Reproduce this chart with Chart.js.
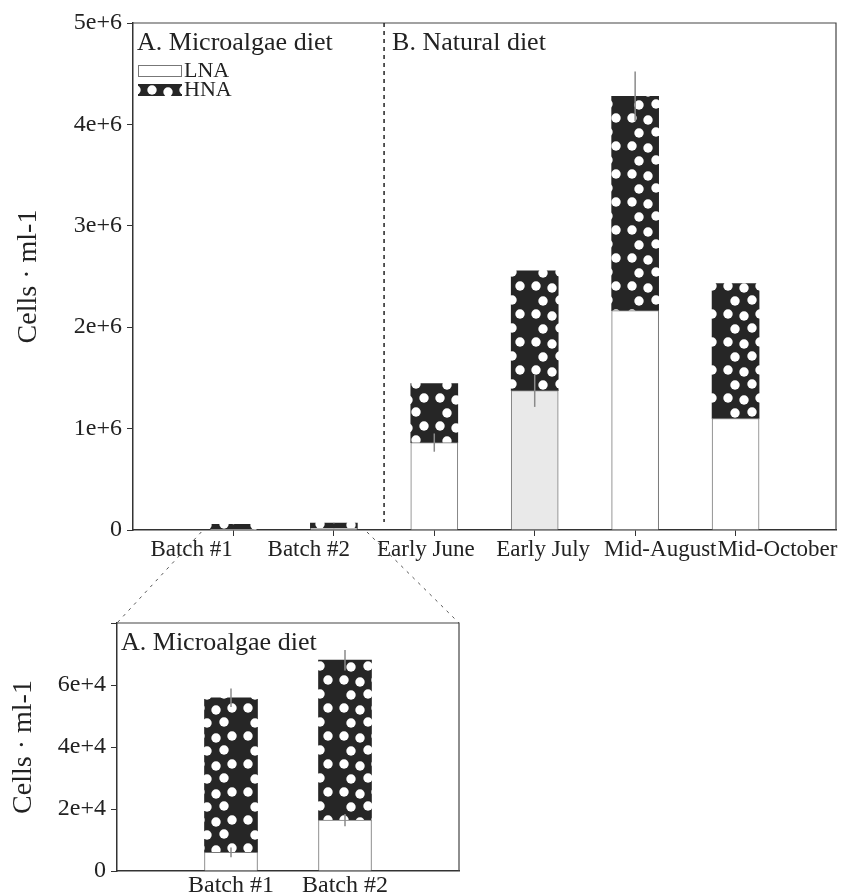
<!DOCTYPE html>
<html>
<head>
<meta charset="utf-8">
<script src="https://cdn.jsdelivr.net/npm/chart.js@4.4.0/dist/chart.umd.min.js"></script>
<style>
  html, body { margin: 0; padding: 0; background: #fff; }
  #wrap { position: relative; width: 857px; height: 896px; }
  #main-chart { position: absolute; left: 0; top: 0; }
  #inset-chart { position: absolute; left: 0; top: 590px; }
  #links { position: absolute; left: 0; top: 0; pointer-events: none; }
</style>
</head>
<body>
<div id="wrap">
  <canvas id="main-chart" width="857" height="590"></canvas>
  <canvas id="inset-chart" width="857" height="306"></canvas>
  <canvas id="links" width="857" height="896"></canvas>
</div>
<script>
// data
var categories = ['Batch #1', 'Batch #2', 'Early June', 'Early July', 'Mid-August', 'Mid-October'];
var lnaCells = [6000, 16400, 862000, 1374000, 2163000, 1100000];
var hnaCells = [49900, 51600, 581000, 1183000, 2113000, 1330000];
var lnaErr = [1600, 2000, 90000, 160000, 0, 0];
var hnaErr = [3000, 3300, 0, 0, 245000, 0];
var mainYTicks = ['0', '1e+6', '2e+6', '3e+6', '4e+6', '5e+6'];
var insetYTicks = ['0', '2e+4', '4e+4', '6e+4', ''];
var seriesNames = ['LNA', 'HNA'];
var panelTitles = ['A. Microalgae diet', 'B. Natural diet'];
var yTitle = 'Cells \u00b7 ml-1';

var SERIF = "'Liberation Serif', 'Times New Roman', serif";
var INK = '#222';
var lnaFill = ['#ffffff', '#ffffff', '#ffffff', '#e9e9e9', '#ffffff', '#ffffff'];

// black with white dots, like the printed HNA fill
function dotPattern(ctx) {
  var c = document.createElement('canvas');
  c.width = 48; c.height = 28;
  var g = c.getContext('2d');
  g.fillStyle = '#262626';
  g.fillRect(0, 0, 48, 28);
  g.fillStyle = '#fff';
  [[8, 6], [24, 8], [40, 6], [15, 21], [32, 20]].forEach(function (p) {
    g.beginPath();
    g.arc(p[0], p[1], 4.7, 0, Math.PI * 2);
    g.fill();
  });
  return ctx.createPattern(c, 'repeat');
}

var hnaPattern = dotPattern(document.getElementById('main-chart').getContext('2d'));

// frame, error bars, panel titles, legend
var extras = {
  id: 'extras',
  afterDatasetsDraw: function (chart) {
    var ctx = chart.ctx;
    var yS = chart.scales.y;
    ctx.save();
    ctx.strokeStyle = '#8a8a8a';
    ctx.lineWidth = 1.5;
    chart.data.datasets.forEach(function (ds, di) {
      var meta = chart.getDatasetMeta(di);
      meta.data.forEach(function (el, i) {
        var e = ds.errors[i];
        if (!e) return;
        var h = yS.getPixelForValue(0) - yS.getPixelForValue(e);
        ctx.beginPath();
        ctx.moveTo(el.x, el.y - h);
        ctx.lineTo(el.x, el.y + h);
        ctx.stroke();
      });
    });
    ctx.restore();
  },
  afterDraw: function (chart, args, opts) {
    var ctx = chart.ctx;
    var a = chart.chartArea;
    ctx.save();
    ctx.strokeStyle = '#444';
    ctx.lineWidth = 1.2;
    ctx.beginPath();
    ctx.moveTo(a.left, a.top);
    ctx.lineTo(a.right, a.top);
    ctx.lineTo(a.right, a.bottom);
    ctx.stroke();

    ctx.fillStyle = INK;
    ctx.font = '26px ' + SERIF;
    ctx.textBaseline = 'alphabetic';
    ctx.fillText(panelTitles[0], a.left + 4, a.top + 27);

    if (opts.split) {
      var xs = chart.scales.x.getPixelForValue(2.5);
      ctx.setLineDash([4, 4]);
      ctx.strokeStyle = '#222';
      ctx.lineWidth = 1.5;
      ctx.beginPath();
      ctx.moveTo(xs, a.top);
      ctx.lineTo(xs, a.bottom - 8);
      ctx.stroke();
      ctx.setLineDash([]);
      ctx.fillText(panelTitles[1], xs + 8, a.top + 27);
    }

    if (opts.legend) {
      var ds = chart.data.datasets;
      ctx.font = '22px ' + SERIF;
      for (var i = 0; i < ds.length; i++) {
        var by = a.top + 42 + i * 19;
        ctx.fillStyle = i === 0 ? '#ffffff' : hnaPattern;
        ctx.fillRect(a.left + 5, by, 44, 12);
        if (i === 0) {
          ctx.strokeStyle = '#777';
          ctx.lineWidth = 1;
          ctx.strokeRect(a.left + 5.5, by + 0.5, 43, 11);
        }
        ctx.fillStyle = INK;
        ctx.fillText(ds[i].label, a.left + 51, by + 12);
      }
    }
    ctx.restore();
  }
};

function padded(arr) {
  return [null].concat(arr, [null]);
}

function yAxis(max, step, labels, width, titlePad) {
  return {
    min: 0, max: max,
    ticks: {
      stepSize: step, padding: 5, color: INK,
      font: { family: SERIF, size: 24 },
      callback: function (v, i) { return labels[i]; }
    },
    grid: { drawOnChartArea: false, drawTicks: true, tickLength: 6, color: '#333' },
    border: { display: true, color: '#333', width: 1.5 },
    title: {
      display: true, text: yTitle, color: INK,
      font: { family: SERIF, size: 28 },
      padding: { top: titlePad, bottom: 0 }
    },
    afterFit: function (s) { s.width = width; }
  };
}

// main chart
var mainLabels = [''].concat(categories, ['']);
new Chart(document.getElementById('main-chart'), {
  type: 'bar',
  data: {
    labels: mainLabels,
    datasets: [
      {
        label: seriesNames[0], data: padded(lnaCells), errors: padded(lnaErr),
        backgroundColor: padded(lnaFill), borderColor: '#7a7a7a',
        borderWidth: { left: 1, right: 1, top: 1, bottom: 0 }, barThickness: 47
      },
      {
        label: seriesNames[1], data: padded(hnaCells), errors: padded(hnaErr),
        backgroundColor: hnaPattern, borderWidth: 0, barThickness: 47
      }
    ]
  },
  options: {
    responsive: false,
    animation: false,
    layout: { padding: { top: 23, right: 21, left: 0, bottom: 0 } },
    plugins: { legend: { display: false }, tooltip: { enabled: false }, extras: { split: true, legend: true } },
    scales: {
      x: {
        stacked: true, offset: false,
        ticks: { display: false },
        grid: {
          offset: false, drawOnChartArea: false, drawTicks: true, tickLength: 6,
          color: function (c) { return (c.index === 0 || c.index === mainLabels.length - 1) ? 'rgba(0,0,0,0)' : '#333'; }
        },
        border: { display: true, color: '#333', width: 1.5 },
        afterFit: function (s) { s.height = 6; }
      },
      xl: {
        type: 'category', position: 'bottom', labels: categories, offset: true,
        ticks: { padding: 0, color: INK, autoSkip: false, maxRotation: 0, font: { family: SERIF, size: 23 } },
        grid: { display: false, drawTicks: false },
        border: { display: false },
        afterFit: function (s) { s.height = 54; }
      },
      y: Object.assign(yAxis(5000000, 1000000, mainYTicks, 133, 12), { stacked: true })
    }
  },
  plugins: [extras]
});

// inset of the microalgae batches
var insetCats = categories.slice(0, 2);
var insetLabels = [''].concat(insetCats, ['']);
new Chart(document.getElementById('inset-chart'), {
  type: 'bar',
  data: {
    labels: insetLabels,
    datasets: [
      {
        label: seriesNames[0], data: padded(lnaCells.slice(0, 2)), errors: padded(lnaErr.slice(0, 2)),
        backgroundColor: '#ffffff', borderColor: '#7a7a7a',
        borderWidth: { left: 1, right: 1, top: 1, bottom: 0 }, barThickness: 53
      },
      {
        label: seriesNames[1], data: padded(hnaCells.slice(0, 2)), errors: padded(hnaErr.slice(0, 2)),
        backgroundColor: hnaPattern, borderWidth: 0, barThickness: 53
      }
    ]
  },
  options: {
    responsive: false,
    animation: false,
    layout: { padding: { top: 33, right: 398, left: 0, bottom: 0 } },
    plugins: { legend: { display: false }, tooltip: { enabled: false }, extras: { split: false, legend: false } },
    scales: {
      x: {
        stacked: true, offset: false,
        ticks: { padding: 0, color: INK, autoSkip: false, maxRotation: 0, font: { family: SERIF, size: 24 } },
        grid: { display: false, drawTicks: false },
        border: { display: true, color: '#333', width: 1.5 },
        afterFit: function (s) { s.height = 25; }
      },
      y: Object.assign(yAxis(80000, 20000, insetYTicks, 117, 7), { stacked: true })
    }
  },
  plugins: [extras]
});

// dotted zoom lines from the batch bars down to the inset
function drawLinks() {
  var main = Chart.getChart('main-chart');
  var inset = Chart.getChart('inset-chart');
  var ctx = document.getElementById('links').getContext('2d');
  var top = document.getElementById('inset-chart').offsetTop;
  var mx = main.scales.x, my = main.scales.y;
  var ia = inset.chartArea;
  ctx.strokeStyle = '#555';
  ctx.lineWidth = 1;
  ctx.setLineDash([3, 5]);
  ctx.beginPath();
  ctx.moveTo(mx.getPixelForValue(0.68), my.bottom + 2);
  ctx.lineTo(ia.left, ia.top + top);
  ctx.moveTo(mx.getPixelForValue(2.33), my.bottom + 2);
  ctx.lineTo(ia.right, ia.top + top);
  ctx.stroke();
}
drawLinks();
</script>
</body>
</html>
